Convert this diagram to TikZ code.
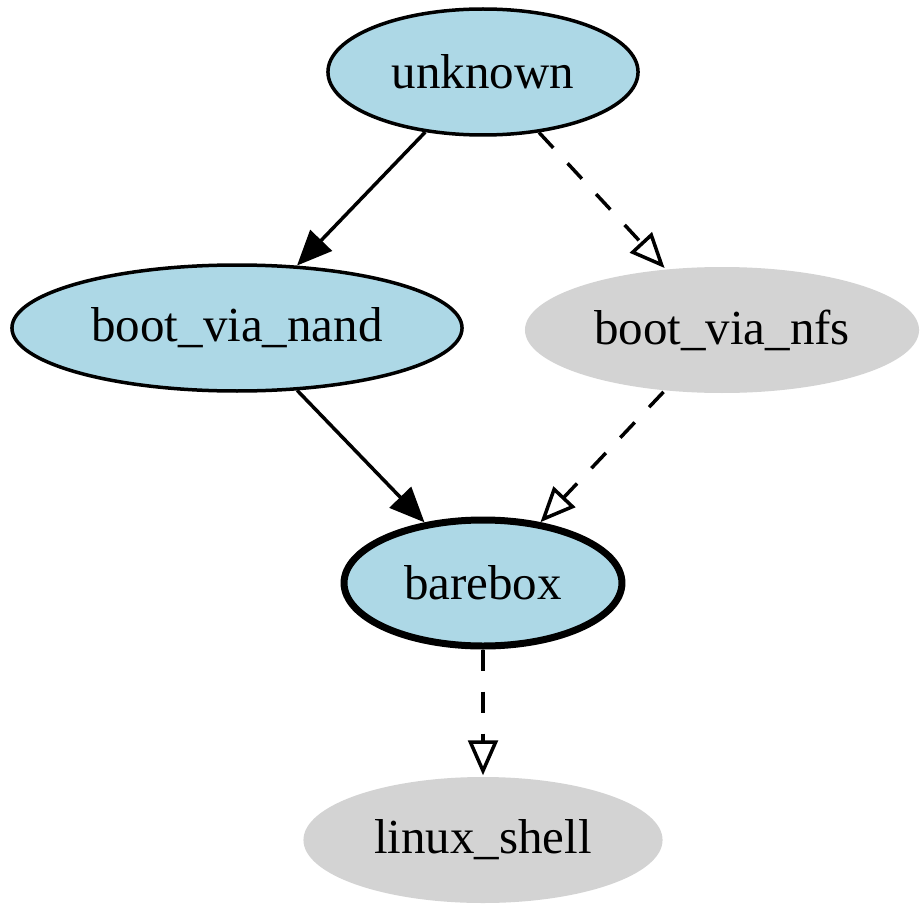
\documentclass[tikz,border=0pt]{standalone}
\usepackage{fontspec}
\setmainfont{Liberation Serif}
\usetikzlibrary{shapes.geometric,arrows.meta}
\definecolor{stateblue}{HTML}{ADD8E6}
\definecolor{stategray}{HTML}{D3D3D3}
\tikzset{
    state/.style={ellipse, draw, line width=1pt, fill=stateblue, inner sep=0pt,
        minimum height=36pt, font=\fontsize{14pt}{16pt}\selectfont},
    offstate/.style={state, draw=none, fill=stategray},
    current/.style={state, line width=2pt},
    trans/.style={line width=1pt, -{Triangle[length=10pt,width=8.5pt]}},
    maybe/.style={line width=1pt, dash pattern=on 6pt off 6pt,
        -{Triangle[open,length=10pt,width=8.5pt]}}
}
\begin{document}
\begin{tikzpicture}[x=0.285714pt,y=-0.285714pt]
    \useasboundingbox (0,0) rectangle (920,905);
    %States
    \node[state, minimum width=88.6pt] (unknown) at (483,72) {unknown};
    \node[state, minimum width=128.6pt] (nand) at (237,328) {boot\_via\_nand};
    \node[offstate, minimum width=112.6pt] (nfs) at (722,330) {boot\_via\_nfs};
    \node[current, minimum width=79.4pt] (barebox) at (483,583) {barebox};
    \node[offstate, minimum width=102.6pt] (shell) at (483,840) {linux\_shell};
    %Transitions
    \draw[trans] (unknown) -- (nand);
    \draw[maybe] (unknown) -- (nfs);
    \draw[trans] (nand) -- (barebox);
    \draw[maybe] (nfs) -- (barebox);
    \draw[maybe] (barebox) -- (shell);
\end{tikzpicture}
\end{document}
